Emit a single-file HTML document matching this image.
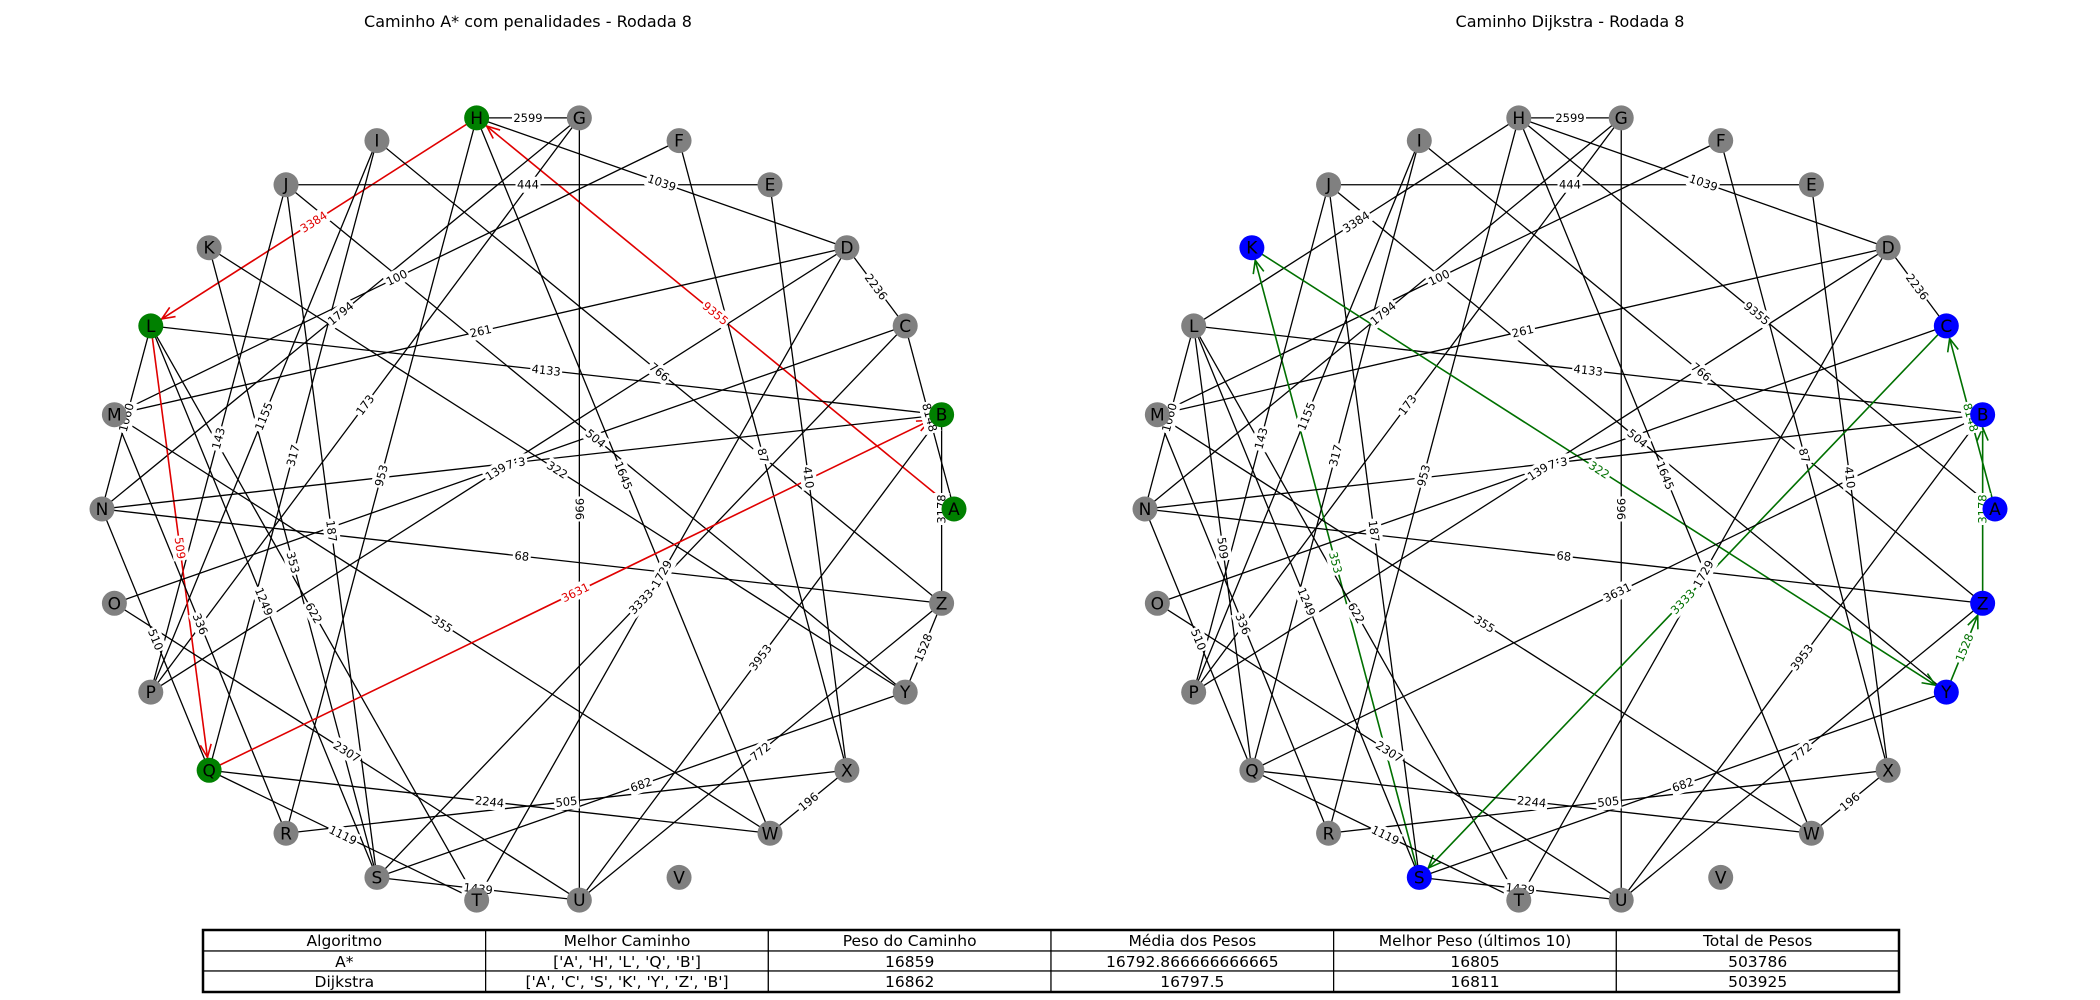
<!DOCTYPE html>
<html><head><meta charset="utf-8"><style>
body{margin:0;background:#fff;}
svg{display:block;font-family:"Liberation Sans","DejaVu Sans",sans-serif;}
</style></head><body>
<svg id="fig" width="2100" height="1000" viewBox="0 0 2100 1000" xmlns="http://www.w3.org/2000/svg">
<text x="528" y="27" font-size="16" text-anchor="middle" font-family="DejaVu Sans, sans-serif">Caminho A* com penalidades - Rodada 8</text>
<text x="1570" y="27" font-size="16" text-anchor="middle" font-family="DejaVu Sans, sans-serif">Caminho Dijkstra - Rodada 8</text>
<g id="g1"></g>
<g id="g2"></g>
<g id="tbl"></g>
</svg>
<script>
const nodeNames = 'ABCDEFGHIJKLMNOPQRSTUVWXYZ'.split('');
const edgeFrom = ['H','H','H','H','J','D','L','D','F','G','G','I','I','K','J','I','H','J','J','K','L','M','L','L','N','O','M','P','N','G','H','F','E','D','C','B','Q','Z','Y','R','Q','Y','W','Q','S','Z','A','L','C','N'];
const edgeTo   = ['G','L','A','D','E','C','B','M','M','N','P','Z','P','S','P','Q','R','S','Y','Y','Q','R','S','T','Q','U','W','D','Z','U','W','X','X','T','S','U','B','U','S','X','W','Z','X','T','U','B','C','N','O','B'];
const edgeWeights = [2599,3384,9355,1039,444,2236,4133,261,100,1794,173,766,1155,353,143,317,953,187,504,322,509,336,1249,622,510,2307,355,1396,68,996,1645,87,410,1729,3333,3953,3631,772,682,505,2244,1528,196,1119,1439,3178,8148,1060,7,3];
const pathAstar = ['A','H','L','Q','B'];
const pathDijkstra = ['A','C','S','K','Y','Z','B'];
const tableHeader = ['Algoritmo','Melhor Caminho','Peso do Caminho','Média dos Pesos','Melhor Peso (últimos 10)','Total de Pesos'];
const tableRow1 = ['A*',"['A', 'H', 'L', 'Q', 'B']",'16859','16792.866666666665','16805','503786'];
const tableRow2 = ['Dijkstra',"['A', 'C', 'S', 'K', 'Y', 'Z', 'B']",'16862','16797.5','16811','503925'];

const NS='http://www.w3.org/2000/svg';
function mk(tag,attrs,parent){const e=document.createElementNS(NS,tag);for(const k in attrs)e.setAttribute(k,attrs[k]);parent.appendChild(e);return e;}

function drawGraph(g,cx,cy,rx,ry,path,pathColor,nodeColor,prefix){
  const pos={};
  nodeNames.forEach((n,i)=>{const a=i*2*Math.PI/nodeNames.length;pos[n]=[cx+rx*Math.cos(a),cy-ry*Math.sin(a)];});
  const onPath={};
  for(let i=0;i<path.length-1;i++){onPath[path[i]+path[i+1]]=[path[i],path[i+1]];onPath[path[i+1]+path[i]]=[path[i],path[i+1]];}
  const labels=[];
  edgeFrom.forEach((f,i)=>{
    const t=edgeTo[i];const p=onPath[f+t];
    const col=p?pathColor:'#000';
    const a=pos[f],b=pos[t];
    const ln=mk('line',{x1:a[0],y1:a[1],x2:b[0],y2:b[1],stroke:col,'stroke-width':p?1.6:1.3},g);
    
    
    if(p){
      const s=pos[p[0]],e=pos[p[1]];
      const dx=e[0]-s[0],dy=e[1]-s[1],L=Math.hypot(dx,dy),ux=dx/L,uy=dy/L;
      const tx=e[0]-ux*13,ty=e[1]-uy*13;
      const ang=Math.atan2(uy,ux);
      const ah=mk('path',{d:`M${tx-14*Math.cos(ang-0.4)},${ty-14*Math.sin(ang-0.4)}L${tx},${ty}L${tx-14*Math.cos(ang+0.4)},${ty-14*Math.sin(ang+0.4)}`,fill:'none',stroke:col,'stroke-width':1.6},g);
      
      
    }
    labels.push([a,b,edgeWeights[i],col,f+'-'+t]);
  });
  labels.forEach(([a,b,w,col,id])=>{
    const mx=(a[0]+b[0])/2,my=(a[1]+b[1])/2;
    let ang=Math.atan2(b[1]-a[1],b[0]-a[0])*180/Math.PI;
    if(ang>90)ang-=180;if(ang<-90)ang+=180;
    const lg=mk('g',{transform:`translate(${mx},${my}) rotate(${ang})`},g);
    
    
    const txt=String(w);const wd=txt.length*7+4;
    mk('rect',{x:-wd/2,y:-8,width:wd,height:16,fill:'#fff'},lg);
    const te=mk('text',{x:0,y:4,'font-size':11.5,'text-anchor':'middle',fill:col,'font-family':'DejaVu Sans, sans-serif'},lg);
    te.textContent=txt;
  });
  nodeNames.forEach(n=>{
    const inPath=path.includes(n);
    const c=mk('circle',{cx:pos[n][0],cy:pos[n][1],r:12.5,fill:inPath?nodeColor:'#808080'},g);
    
    
    const t=mk('text',{x:pos[n][0],y:pos[n][1]+6,'font-size':17,'text-anchor':'middle',fill:'#000','font-family':'DejaVu Sans, sans-serif'},g);
    
    
    t.textContent=n;
  });
}
drawGraph(document.getElementById('g1'),528,509,426,394,pathAstar,'#e00000','#008000','astar');
drawGraph(document.getElementById('g2'),1570,509,425,394,pathDijkstra,'#007000','#0000ff','dijkstra');

// table
const tb=document.getElementById('tbl');
const tx0=203,tx1=1899,rowsY=[930,951,971,992];
const cw=(tx1-tx0)/6;
[tableHeader,tableRow1,tableRow2].forEach((row,r)=>{
  row.forEach((v,c)=>{
    const rc=mk('rect',{x:tx0+c*cw,y:rowsY[r],width:cw,height:rowsY[r+1]-rowsY[r],fill:'#fff',stroke:'#000','stroke-width':1.2},tb);
    
    
    const t=mk('text',{x:tx0+c*cw+cw/2,y:rowsY[r]+16,'font-size':15.5,'text-anchor':'middle','font-family':'DejaVu Sans, sans-serif'},tb);
    t.textContent=v;
  });
});
mk('rect',{x:tx0,y:rowsY[0],width:tx1-tx0,height:rowsY[3]-rowsY[0],fill:'none',stroke:'#000','stroke-width':2.5},tb);
</script>
</body></html>
